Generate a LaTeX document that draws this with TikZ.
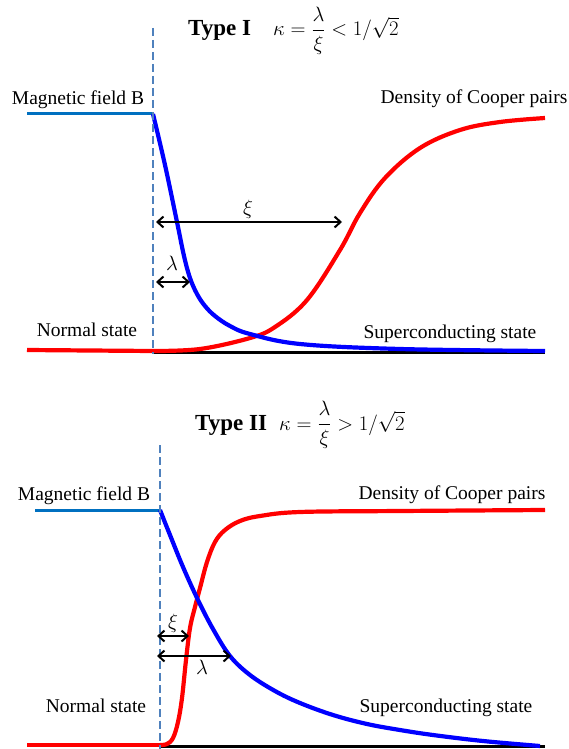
\documentclass[tikz,border=0pt]{standalone}
\usepackage{amsmath}
\usepackage{fontspec}
\setmainfont{Liberation Serif}
\usetikzlibrary{positioning, arrows.meta}

\definecolor{fieldblue}{RGB}{0,112,192}
\definecolor{dashblue}{RGB}{79,129,189}

\tikzset{
    labeltext/.style={font=\fontsize{19.5}{23}\selectfont, inner sep=0pt, anchor=base},
    typetext/.style={font=\fontsize{23}{27}\selectfont\bfseries, inner sep=0pt, anchor=base west},
    kappatext/.style={font=\fontsize{20.5}{24}\selectfont, inner sep=0pt, anchor=base west},
    boundary/.style={dashblue, line width=2.4pt, dash pattern=on 8pt off 4pt},
    fieldline/.style={fieldblue, line width=3pt},
    Bcurve/.style={blue, line width=4.2pt},
    ncurve/.style={red, line width=4.2pt},
    groundline/.style={black, line width=3pt},
    lengtharrow/.style={{Straight Barb[length=6pt,width=11pt]}-{Straight Barb[length=6pt,width=11pt]}, line width=2pt}
}

\begin{document}
\begin{tikzpicture}[x=1pt, y=-1pt]
\useasboundingbox (0,0) rectangle (569,749);

% First figure: type I
\begin{scope}
    \node[typetext] (type1) at (188,36) {Type I};
    \node[kappatext] (kappa1) at (273,36) {$\kappa=\dfrac{\lambda}{\xi}<1/\sqrt{2}$};
    \draw[groundline] (153,352) -- (545,352);
    \draw[fieldline] (27,114) -- (153,114);
    \draw[ncurve] (27,350) -- (153,351);
    \draw[ncurve] plot [smooth, tension=.6]
        coordinates {(153,351)(200,349)(250,338)(275,327)(307,300)(340,250)(360,213)(385,178)(420,148)(460,130)(500,122)(545,118)};
    \draw[Bcurve] plot [smooth, tension=.6]
        coordinates {(153,114)(165,165)(177,222)(184,256)(190,278)(197,294)(205,306)(215,316)(230,326)(250,334)(300,344)(400,349)(545,351)};
    \draw[boundary] (153,28) -- (153,354);
    \coordinate (xi1L) at (156,222);
    \coordinate (xi1R) at (342,222);
    \coordinate (lam1L) at (156,282);
    \coordinate (lam1R) at (190,282);
    \draw[lengtharrow] (xi1L) -- (xi1R);
    \draw[lengtharrow] (lam1L) -- (lam1R);
    \node[labeltext] (xilab1) at (248,214) {$\xi$};
    \node[labeltext] (lamlab1) at (172,270) {$\lambda$};
    \node[labeltext] (field1) at (78,105) {Magnetic field B};
    \node[labeltext] (dens1) at (474,104) {Density of Cooper pairs};
    \node[labeltext] (normal1) at (87,336) {Normal state};
    \node[labeltext] (super1) at (450,338) {Superconducting state};
\end{scope}

% Second figure: type II
\begin{scope}
    \node[typetext] (type2) at (195,430) {Type II};
    \node[kappatext] (kappa2) at (279,430) {$\kappa=\dfrac{\lambda}{\xi}>1/\sqrt{2}$};
    \draw[groundline] (160,746) -- (545,746);
    \draw[fieldline] (35,510) -- (160,510);
    \draw[ncurve] (27,745) -- (160,745);
    \draw[ncurve] plot [smooth, tension=.6]
        coordinates {(160,745)(167,744)(173,738)(178,722)(182,698)(186,660)(190,628)(195,607)(200,588)(207,562)(215,542)(225,530)(240,521)(260,516)(300,512)(400,511)(545,510)};
    \draw[Bcurve] plot [smooth, tension=.6]
        coordinates {(160,510)(170,535)(183,567)(198,600)(213,629)(230,656)(250,675)(275,691)(300,703)(333,715)(367,724)(400,730)(433,735)(483,741)(540,746)};
    \draw[boundary] (160,445) -- (160,749);
    \coordinate (xi2L) at (157,636);
    \coordinate (xi2R) at (189,636);
    \coordinate (lam2L) at (157,656);
    \coordinate (lam2R) at (231,656);
    \draw[lengtharrow] (xi2L) -- (xi2R);
    \draw[lengtharrow] (lam2L) -- (lam2R);
    \node[labeltext] (xilab2) at (173,628) {$\xi$};
    \node[labeltext] (lamlab2) at (202,674) {$\lambda$};
    \node[labeltext] (field2) at (84,500) {Magnetic field B};
    \node[labeltext] (dens2) at (452,499) {Density of Cooper pairs};
    \node[labeltext] (normal2) at (96,712) {Normal state};
    \node[labeltext] (super2) at (446,712) {Superconducting state};
\end{scope}
\end{tikzpicture}
\end{document}
